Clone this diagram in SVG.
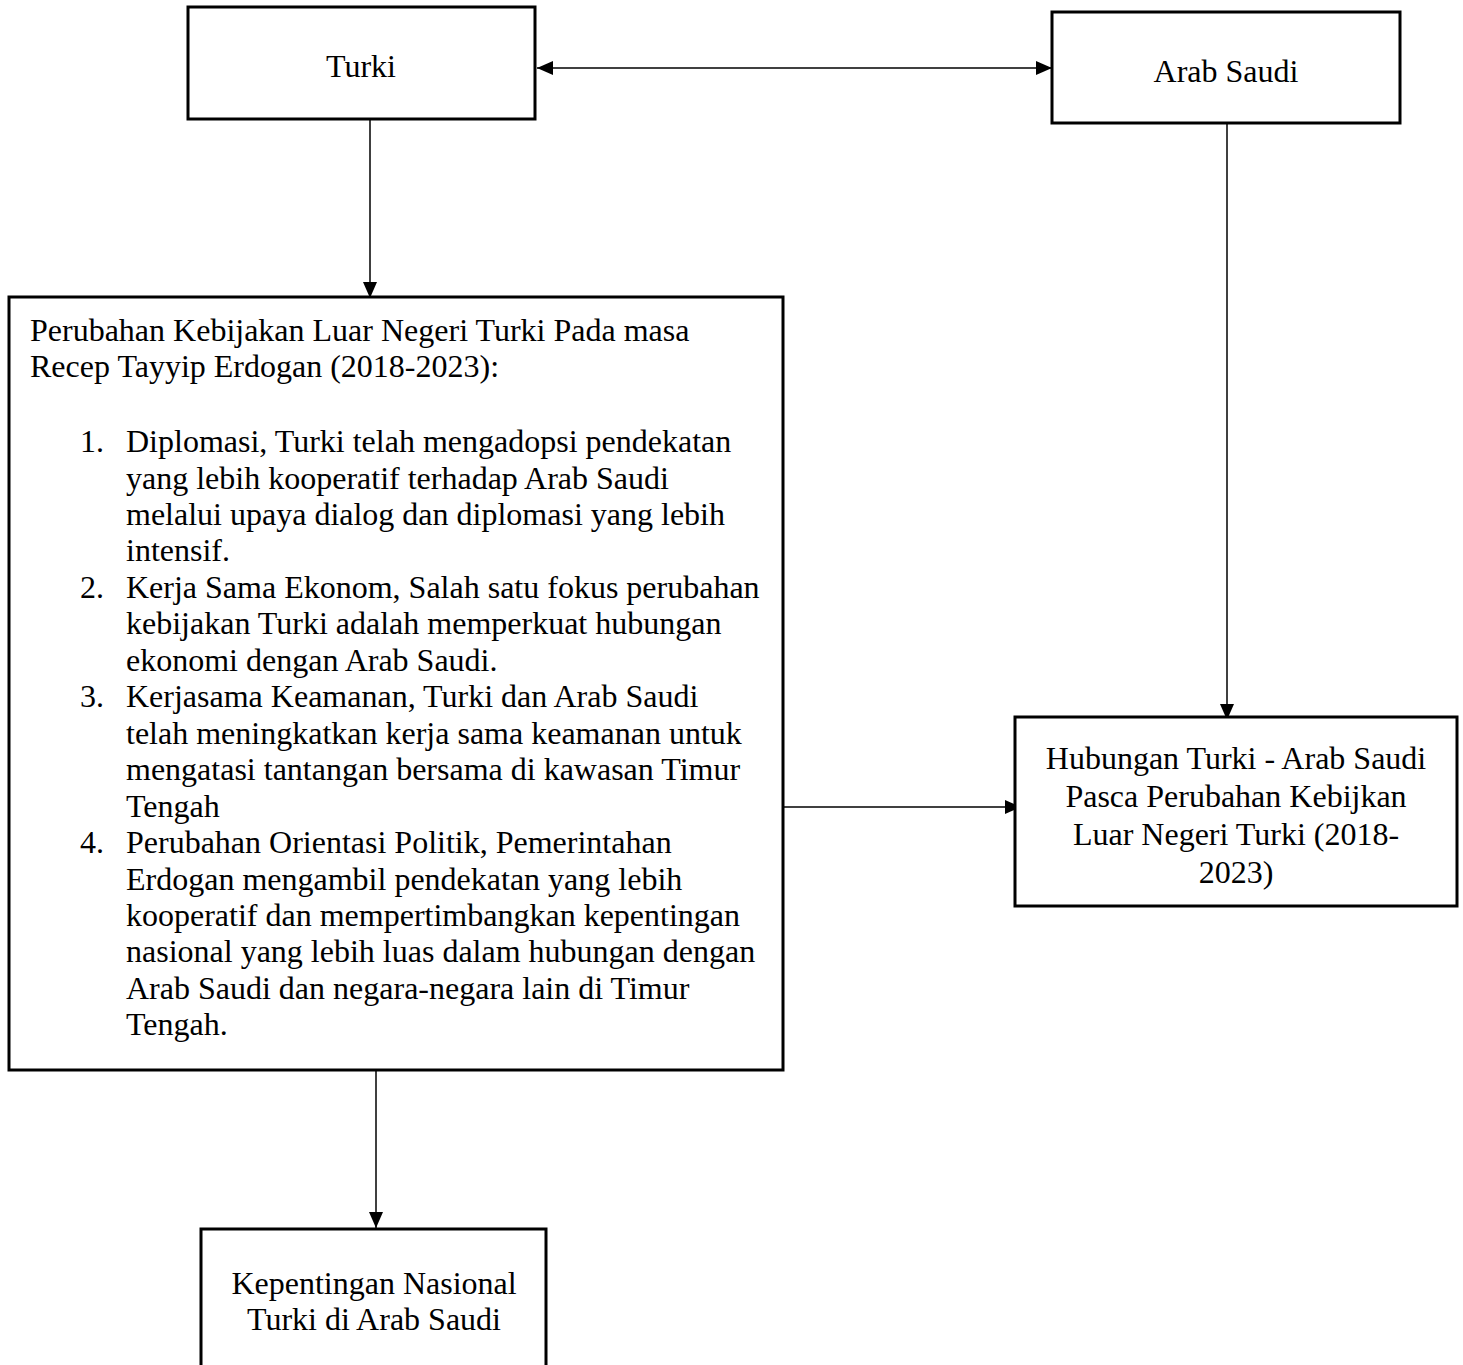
<svg xmlns="http://www.w3.org/2000/svg" width="1463" height="1365" viewBox="0 0 1463 1365">
<style>
.box{fill:#fff;stroke:#000;stroke-width:3}
.t{font-family:"Liberation Serif","Times New Roman",serif;font-size:32px;fill:#000}
.c{text-anchor:middle}
.ln{stroke:#000;stroke-width:1.5;fill:none}
</style>
<defs>
<marker id="ah" viewBox="0 0 16 14" refX="16" refY="7" markerWidth="16" markerHeight="14" markerUnits="userSpaceOnUse" orient="auto-start-reverse">
<path d="M0,0 L16,7 L0,14 z" fill="#000"/>
</marker>
</defs>
<rect width="1463" height="1365" fill="#fff"/>
<g id="connectors">
<line class="ln" x1="537" y1="68" x2="1052" y2="68" marker-start="url(#ah)" marker-end="url(#ah)"/>
<line class="ln" x1="370" y1="119" x2="370" y2="298" marker-end="url(#ah)"/>
<line class="ln" x1="1227" y1="123" x2="1227" y2="720" marker-end="url(#ah)"/>
<line class="ln" x1="778" y1="807" x2="1021" y2="807" marker-end="url(#ah)"/>
<line class="ln" x1="376" y1="1070" x2="376" y2="1228" marker-end="url(#ah)"/>
</g>
<g id="turki">
<rect class="box" x="188" y="7" width="347" height="112"/>
<text class="t c" x="361" y="77">Turki</text>
</g>
<g id="arab-saudi">
<rect class="box" x="1052" y="12" width="348" height="111"/>
<text class="t c" x="1226" y="82">Arab Saudi</text>
</g>
<g id="perubahan">
<rect class="box" x="9" y="297" width="774" height="773"/>
<text class="t" x="30" y="341">Perubahan Kebijakan Luar Negeri Turki Pada masa</text>
<text class="t" x="30" y="377">Recep Tayyip Erdogan (2018-2023):</text>
<text class="t" x="80" y="452">1.</text>
<text class="t" x="126" y="452">Diplomasi, Turki telah mengadopsi pendekatan</text>
<text class="t" x="126" y="489">yang lebih kooperatif terhadap Arab Saudi</text>
<text class="t" x="126" y="525">melalui upaya dialog dan diplomasi yang lebih</text>
<text class="t" x="126" y="561">intensif.</text>
<text class="t" x="80" y="598">2.</text>
<text class="t" x="126" y="598">Kerja Sama Ekonom, Salah satu fokus perubahan</text>
<text class="t" x="126" y="634">kebijakan Turki adalah memperkuat hubungan</text>
<text class="t" x="126" y="671">ekonomi dengan Arab Saudi.</text>
<text class="t" x="80" y="707">3.</text>
<text class="t" x="126" y="707">Kerjasama Keamanan, Turki dan Arab Saudi</text>
<text class="t" x="126" y="744">telah meningkatkan kerja sama keamanan untuk</text>
<text class="t" x="126" y="780">mengatasi tantangan bersama di kawasan Timur</text>
<text class="t" x="126" y="817">Tengah</text>
<text class="t" x="80" y="853">4.</text>
<text class="t" x="126" y="853">Perubahan Orientasi Politik, Pemerintahan</text>
<text class="t" x="126" y="890">Erdogan mengambil pendekatan yang lebih</text>
<text class="t" x="126" y="926">kooperatif dan mempertimbangkan kepentingan</text>
<text class="t" x="126" y="962">nasional yang lebih luas dalam hubungan dengan</text>
<text class="t" x="126" y="999">Arab Saudi dan negara-negara lain di Timur</text>
<text class="t" x="126" y="1035">Tengah.</text>
</g>
<g id="hubungan">
<rect class="box" x="1015" y="717" width="442" height="189"/>
<text class="t c" x="1236" y="769">Hubungan Turki - Arab Saudi</text>
<text class="t c" x="1236" y="807">Pasca Perubahan Kebijkan</text>
<text class="t c" x="1236" y="845">Luar Negeri Turki (2018-</text>
<text class="t c" x="1236" y="883">2023)</text>
</g>
<g id="kepentingan">
<rect class="box" x="201" y="1229" width="345" height="150"/>
<text class="t c" x="374" y="1294">Kepentingan Nasional</text>
<text class="t c" x="374" y="1330">Turki di Arab Saudi</text>
</g>
</svg>
